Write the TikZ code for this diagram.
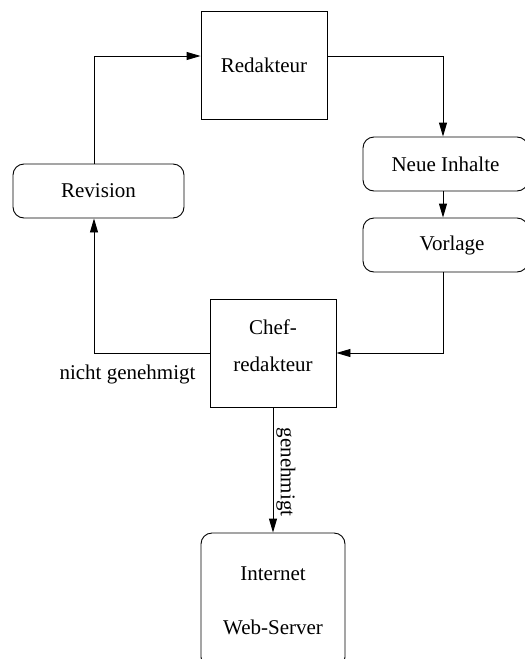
\documentclass[tikz,border=0pt]{standalone}
\usepackage{fontspec}
\setmainfont{Liberation Serif}
\usetikzlibrary{arrows.meta}
\begin{document}
\begin{tikzpicture}[x=1pt,y=-1pt,
  every node/.style={font=\fontsize{21}{25}\selectfont},
  plainbox/.style={draw, line width=0.9pt, inner sep=0pt, align=center},
  roundbox/.style={plainbox, rounded corners=11pt},
  flow/.style={line width=0.9pt, -{Triangle[length=14pt,width=8pt]}},
  lbl/.style={inner sep=0pt}]
\useasboundingbox (0,0) rectangle (525,659);
\clip (0,0) rectangle (525,659);

% boxes
\node[plainbox, minimum width=126pt, minimum height=108pt] (redakteur) at (264,65) {Redakteur};
\node[roundbox, minimum width=165pt, minimum height=54pt] (neue) at (445.5,164) {Neue Inhalte};
\node[roundbox, minimum width=165pt, minimum height=54pt] (vorlage) at (445.5,245) {\hspace*{13pt}Vorlage};
\node[roundbox, minimum width=171pt, minimum height=54pt] (revision) at (98.5,191) {Revision};
\node[plainbox, minimum width=126pt, minimum height=108pt,
      font=\fontsize{21}{37}\selectfont] (chef) at (273,353) {Chef-\\redakteur\\[-23pt]};
\node[roundbox, minimum width=144pt, minimum height=135pt,
      font=\fontsize{21}{54}\selectfont] (internet) at (273,600.5) {Internet\\Web-Server};

% connectors
\draw[flow] ([xshift=-4.5pt]revision.north) |- ([yshift=9pt]redakteur.west);
\draw[flow] ([yshift=9pt]redakteur.east) -| ([xshift=-2.5pt]neue.north);
\draw[flow] ([xshift=-2.5pt]neue.south) -- ([xshift=-2.5pt]vorlage.north);
\draw[flow] ([xshift=-2.5pt]vorlage.south) |- (chef.east);
\draw[flow] (chef.west) -| ([xshift=-4.5pt]revision.south);
\draw[flow] (chef.south) -- (internet.north);

% labels
\node[lbl] (nicht) at (127.5,374) {nicht genehmigt};
\node[lbl, rotate=-90] (genehmigt) at (286,472) {genehmigt};
\end{tikzpicture}
\end{document}
